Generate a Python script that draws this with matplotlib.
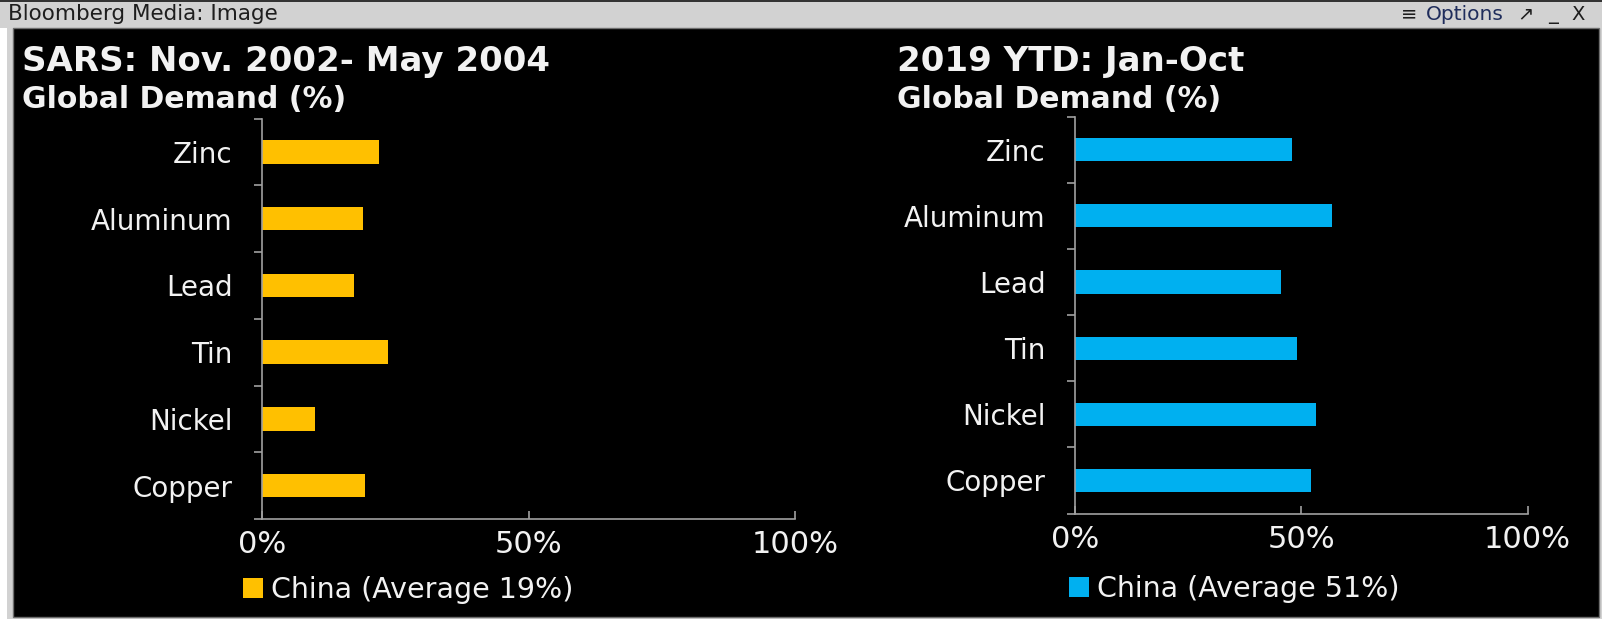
import matplotlib
matplotlib.use('Agg')
import matplotlib.pyplot as plt
from matplotlib.patches import Rectangle

# data (share of global demand, %)
metals = ['Zinc', 'Aluminum', 'Lead', 'Tin', 'Nickel', 'Copper']
sars_share = [22.0, 19.0, 17.3, 23.7, 10.0, 19.3]
ytd_share = [48.0, 56.8, 45.5, 49.0, 53.2, 52.2]
x_ticks = [0, 50, 100]
x_tick_labels = ['0%', '50%', '100%']

W, H = 1602, 619
TEXT = '#f2f2f2'
GRAY = '#a0a0a0'


def px_rect(x0, x1, top, bottom):
    # pixel box (from top-left) -> figure fraction rect
    return [x0 / W, 1 - bottom / H, (x1 - x0) / W, (bottom - top) / H]


def draw_panel(ax, values, color, title, legend_label, title_x, legend_x, legend_y):
    ax.barh(range(len(metals)), values, height=0.35, color=color, label=legend_label)
    ax.set_xlim(0, 100)
    ax.set_ylim(len(metals) - 0.5, -0.5)
    ax.set_facecolor('none')
    for s in ['top', 'right']:
        ax.spines[s].set_visible(False)
    for s in ['left', 'bottom']:
        ax.spines[s].set_color(GRAY)
        ax.spines[s].set_linewidth(1.2)

    ax.set_yticks(range(len(metals)))
    ax.set_yticklabels(metals)
    ax.set_yticks([i - 0.5 for i in range(len(metals) + 1)], minor=True)
    ax.tick_params(axis='y', which='major', length=0, pad=21, labelsize=20, labelcolor=TEXT)
    ax.tick_params(axis='y', which='minor', length=6, width=1.2, color=GRAY, direction='out')

    ax.set_xticks(x_ticks)
    ax.set_xticklabels(x_tick_labels)
    ax.tick_params(axis='x', direction='in', length=6, width=1.2, color=GRAY,
                   pad=8, labelsize=22, labelcolor=TEXT)

    fig.text(title_x / W, 1 - 61 / H, title, fontsize=24.5, fontweight='bold',
             color=TEXT, ha='left', va='center')
    fig.text(title_x / W, 1 - 99 / H, 'Global Demand (%)', fontsize=21.5, fontweight='bold',
             color=TEXT, ha='left', va='center')

    ax.legend(loc='center left', bbox_to_anchor=(legend_x / W, 1 - legend_y / H),
              bbox_transform=fig.transFigure, frameon=False, fontsize=20.5, labelcolor=TEXT,
              handlelength=0.7, handleheight=0.7, handletextpad=0.3,
              borderpad=0, borderaxespad=0)


fig = plt.figure(figsize=(W / 100, H / 100), dpi=100, facecolor='#d2d2d2')

# window chrome, kept behind the axes
fig.patches.append(Rectangle((0, 0), 7 / W, 1 - 28 / H, transform=fig.transFigure,
                             facecolor='white', edgecolor='none', zorder=-5))
fig.patches.append(Rectangle((13 / W, 1 - 617 / H), (1599 - 13) / W, (617 - 28) / H,
                             transform=fig.transFigure, facecolor='black',
                             edgecolor='#6e6e6e', lw=1, zorder=-5))
fig.patches.append(Rectangle((0, 1 - 1.5 / H), 1, 1.5 / H, transform=fig.transFigure,
                             facecolor='#333333', edgecolor='none', zorder=-5))
fig.text(8 / W, 1 - 14 / H, 'Bloomberg Media: Image', fontsize=15.5, color='#1e1e1e',
         ha='left', va='center')
fig.text(1409 / W, 1 - 14 / H, '≡', fontsize=14, color='#1e1e1e', ha='center', va='center')
fig.text(1426 / W, 1 - 14 / H, 'Options', fontsize=14.5, color='#1f2d5c', ha='left', va='center')
fig.text(1525 / W, 1 - 14 / H, '↗', fontsize=14, color='#1e1e1e', ha='center', va='center')
fig.text(1553 / W, 1 - 14 / H, '_', fontsize=14, color='#1e1e1e', ha='center', va='center')
fig.text(1578 / W, 1 - 14 / H, 'X', fontsize=14, color='#1e1e1e', ha='center', va='center')

ax1 = fig.add_axes(px_rect(262, 795, 118.5, 519))
draw_panel(ax1, sars_share, '#ffc000', 'SARS: Nov. 2002- May 2004',
           'China (Average 19%)', 22.5, 243, 590)

ax2 = fig.add_axes(px_rect(1075, 1527.5, 116.7, 513.5))
draw_panel(ax2, ytd_share, '#00b0f0', '2019 YTD: Jan-Oct',
           'China (Average 51%)', 897, 1069, 589)

fig.savefig('out.png', dpi=100, facecolor=fig.get_facecolor())
